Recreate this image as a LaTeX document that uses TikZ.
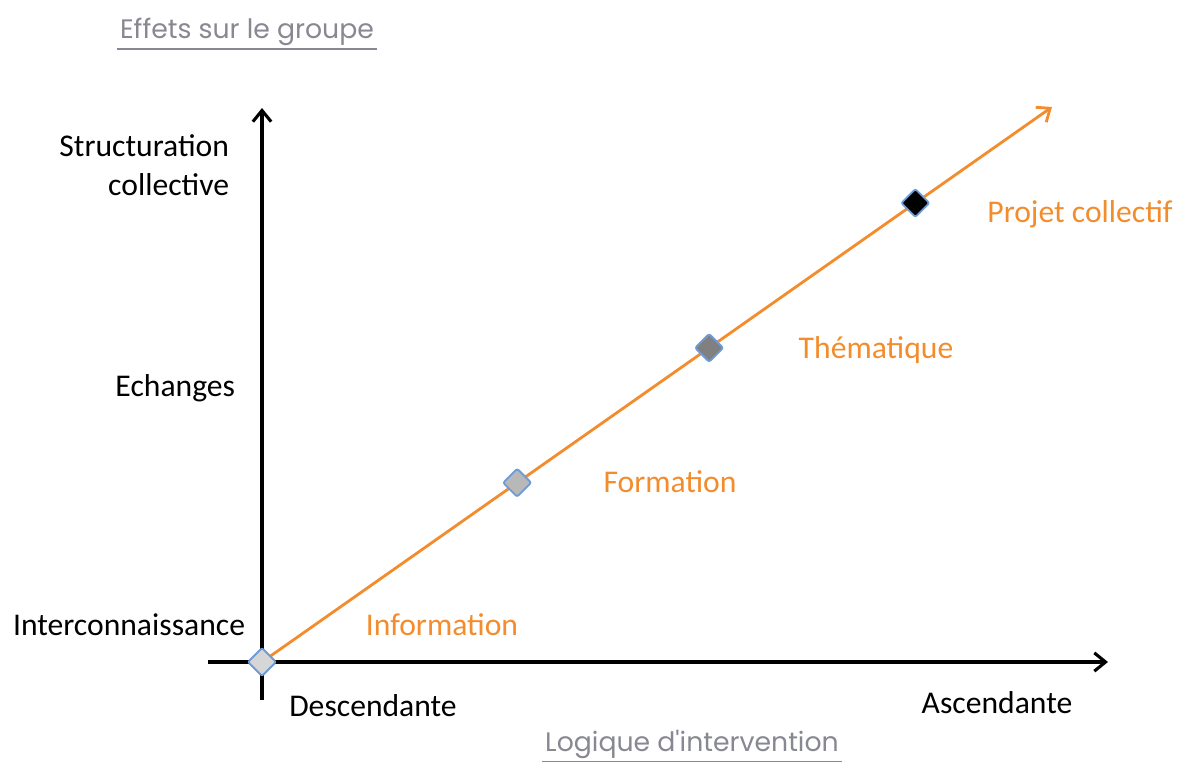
\documentclass[tikz,border=0pt]{standalone}
\usepackage{fontspec}
\setmainfont{Carlito}
\newfontfamily\titlefont{Poppins}
\usetikzlibrary{arrows.meta,shapes.geometric}
\definecolor{orangeline}{RGB}{243,140,44}
\definecolor{titlegray}{RGB}{135,136,145}
\definecolor{markblue}{RGB}{110,155,215}
\def\axisfont{\fontsize{22.5}{28}\selectfont}
\tikzset{
  axis/.style={line width=2.2pt,-{Straight Barb[length=8pt,width=13pt,line width=2.2pt]}},
  stepmark/.style={diamond,draw=markblue,line width=1.3pt,minimum size=0.72cm,inner sep=0pt,rounded corners=1.5pt},
  levellabel/.style={font=\axisfont,text=black},
  phaselabel/.style={font=\axisfont,text=orangeline},
  titlelabel/.style={font=\titlefont\fontsize{19}{22}\selectfont,text=titlegray,inner sep=2pt}
}

\begin{document}
\begin{tikzpicture}[x=0.025cm,y=-0.025cm]
	\useasboundingbox (0,0) rectangle (1177,763);
	% axes
	\coordinate (origin) at (262,662);
	\coordinate (ybot) at (262,700);
	\coordinate (ytop) at (262,108);
	\coordinate (xleft) at (208,662);
	\coordinate (xright) at (1108,662);
	\draw[axis] (ybot) -- (ytop);
	\draw[axis] (xleft) -- (xright);
	% orange progression
	\coordinate (tip) at (1052,107);
	\draw[line width=2pt,orangeline,-{Straight Barb[length=8pt,width=13pt,line width=2pt]}] (origin) -- (tip)
		coordinate[pos=0.323] (m1)
		coordinate[pos=0.566] (m2)
		coordinate[pos=0.827] (m3);
	\node[stepmark,fill=black!16] (d0) at (origin) {};
	\node[stepmark,fill=black!28] (d1) at (m1) {};
	\node[stepmark,fill=black!50] (d2) at (m2) {};
	\node[stepmark,fill=black] (d3) at (m3) {};
	% levels
	\node[levellabel,anchor=east,align=right] (struct) at (234,165) {Structuration\\collective};
	\node[levellabel,anchor=east] (echanges) at (240,388) {Echanges};
	\node[levellabel,anchor=east] (inter) at (250,625) {Interconnaissance};
	\node[levellabel] (desc) at (373,706) {Descendante};
	\node[levellabel] (asc) at (997,703) {Ascendante};
	% phases
	\node[phaselabel] (info) at (442,625) {Information};
	\node[phaselabel] (form) at (670,482) {Formation};
	\node[phaselabel] (them) at (876,350) {Thématique};
	\node[phaselabel] (projet) at (1080,214) {Projet collectif};
	% titles
	\node[titlelabel] (ytitle) at (247,32) {Effets sur le groupe};
	\node[titlelabel] (xtitle) at (692,744) {Logique d'intervention};
	\draw[titlegray,line width=1.2pt] (ytitle.south west) -- (ytitle.south east);
	\draw[titlegray,line width=1.2pt] (xtitle.south west) -- (xtitle.south east);
\end{tikzpicture}
\end{document}
